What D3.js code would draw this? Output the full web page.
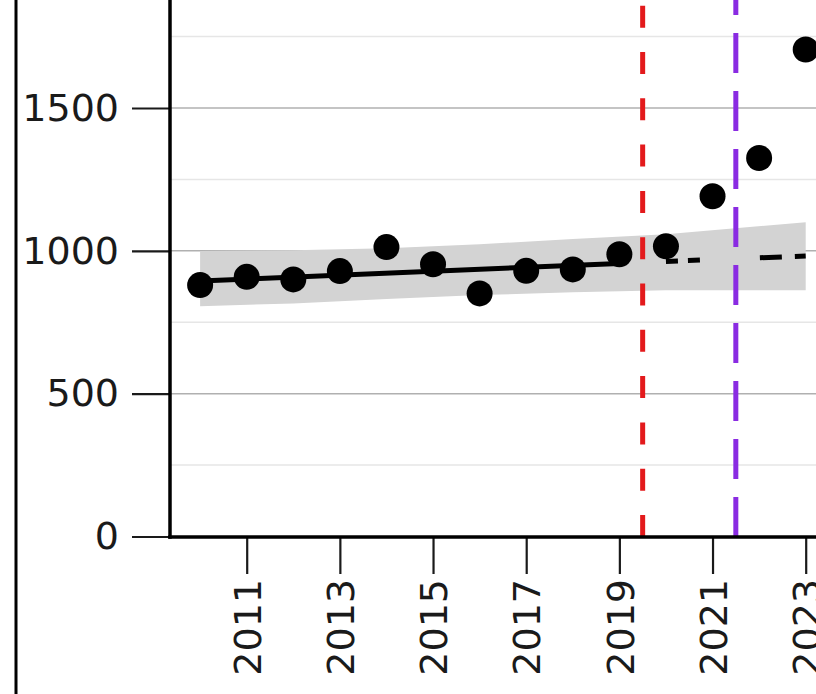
<!DOCTYPE html>
<html>
<head>
<meta charset="utf-8">
<script src="https://cdn.jsdelivr.net/npm/d3@7"></script>
<style>
  body { margin: 0; background: #fff; }
  svg { display: block; }
  text { font-family: "DejaVu Sans", sans-serif; fill: #1a1a1a; }
</style>
</head>
<body>
<svg id="chart"></svg>
<script>
// data
const years = [2010, 2011, 2012, 2013, 2014, 2015, 2016, 2017, 2018, 2019, 2020, 2021, 2022, 2023];
const values = [880, 909, 900, 929, 1013, 953, 851, 930, 935, 988, 1016, 1191, 1325, 1705];

// fitted trend (pre-2020) and its projection
const fitYears = [2010, 2019];
const fitValues = [894, 956];
const projYears = [2020, 2023];
const projValues = [963, 982];

// shaded band
const bandYears = [2010, 2012, 2014, 2016, 2018, 2020, 2023];
const bandUpper = [999, 1002, 1009, 1023, 1041, 1058, 1100];
const bandLower = [806, 816, 831, 845, 855, 862, 862];

// event markers
const markerYears = [2019.5, 2021.5];
const markerColors = ['#e31a1c', '#8a2be2'];

const yTicks = [0, 500, 1000, 1500];
const yMinorTicks = [250, 750, 1250, 1750];
const xTicks = [2011, 2013, 2015, 2017, 2019, 2021, 2023];

const W = 816, H = 694;
const axisX = 170, axisY = 537;

const svg = d3.select('#chart')
  .attr('width', W)
  .attr('height', H);

const x = d3.scaleLinear()
  .domain([2011, 2023])
  .range([246.7, 805.7]);

const y = d3.scaleLinear()
  .domain([0, 1500])
  .range([536.5, 108]);

// frame line on the left
svg.append('line')
  .attr('x1', 16).attr('x2', 16)
  .attr('y1', 0).attr('y2', H)
  .attr('stroke', '#000')
  .attr('stroke-width', 3);

// gridlines
svg.selectAll('.minor')
  .data(yMinorTicks)
  .enter()
  .append('line')
  .attr('x1', axisX).attr('x2', W)
  .attr('y1', d => y(d)).attr('y2', d => y(d))
  .attr('stroke', '#e6e6e6')
  .attr('stroke-width', 1.5);

svg.selectAll('.major')
  .data(yTicks.filter(d => d > 0))
  .enter()
  .append('line')
  .attr('x1', axisX).attr('x2', W)
  .attr('y1', d => y(d)).attr('y2', d => y(d))
  .attr('stroke', '#b0b0b0')
  .attr('stroke-width', 1.5);

// band
const band = bandYears.map((yr, i) => ({year: yr, lo: bandLower[i], hi: bandUpper[i]}));
svg.append('path')
  .datum(band)
  .attr('fill', '#d3d3d3')
  .attr('d', d3.area()
    .x(d => x(d.year))
    .y0(d => y(d.lo))
    .y1(d => y(d.hi)));

// vertical markers, dashes drawn from the bottom up
const dashes = ['22,24.3', '40,18'];
svg.selectAll('.marker')
  .data(markerYears)
  .enter()
  .append('line')
  .attr('x1', d => x(d)).attr('x2', d => x(d))
  .attr('y1', axisY).attr('y2', 0)
  .attr('stroke', (d, i) => markerColors[i])
  .attr('stroke-width', 5)
  .attr('stroke-dasharray', (d, i) => dashes[i]);

// trend line
const line = d3.line()
  .x(d => x(d[0]))
  .y(d => y(d[1]));

svg.append('path')
  .datum(fitYears.map((yr, i) => [yr, fitValues[i]]))
  .attr('fill', 'none')
  .attr('stroke', '#000')
  .attr('stroke-width', 5)
  .attr('d', line);

svg.append('path')
  .datum(projYears.map((yr, i) => [yr, projValues[i]]))
  .attr('fill', 'none')
  .attr('stroke', '#000')
  .attr('stroke-width', 5)
  .attr('stroke-dasharray', '12,10,12,60,22,13,11')
  .attr('d', line);

// points
svg.selectAll('.dot')
  .data(years)
  .enter()
  .append('circle')
  .attr('cx', d => x(d))
  .attr('cy', (d, i) => y(values[i]))
  .attr('r', 13)
  .attr('fill', '#000');

// axes
const yAxis = svg.append('g')
  .attr('transform', `translate(${axisX}, 0)`)
  .call(d3.axisLeft(y).tickValues(yTicks).tickSize(38).tickPadding(13).tickFormat(d3.format('d')));

yAxis.select('.domain').remove();
yAxis.selectAll('.tick line').attr('stroke', '#1a1a1a').attr('stroke-width', 2.2);
yAxis.selectAll('.tick text')
  .style('font-size', '38px')
  .attr('fill', '#1a1a1a');

const xAxis = svg.append('g')
  .attr('transform', `translate(0, ${axisY})`)
  .call(d3.axisBottom(x).tickValues(xTicks).tickSize(37).tickFormat(d3.format('d')));

xAxis.select('.domain').remove();
xAxis.selectAll('.tick line').attr('stroke', '#1a1a1a').attr('stroke-width', 2.2);
xAxis.selectAll('.tick text')
  .style('font-size', '38px')
  .attr('fill', '#1a1a1a')
  .attr('text-anchor', 'end')
  .attr('transform', 'rotate(-90)')
  .attr('x', -42)
  .attr('y', 0)
  .attr('dy', '0.36em');

// spines
svg.append('line')
  .attr('x1', axisX).attr('x2', axisX)
  .attr('y1', 0).attr('y2', axisY + 1.75)
  .attr('stroke', '#000')
  .attr('stroke-width', 3.5);

svg.append('line')
  .attr('x1', axisX - 1.75).attr('x2', W)
  .attr('y1', axisY).attr('y2', axisY)
  .attr('stroke', '#000')
  .attr('stroke-width', 3.5);
</script>
</body>
</html>
